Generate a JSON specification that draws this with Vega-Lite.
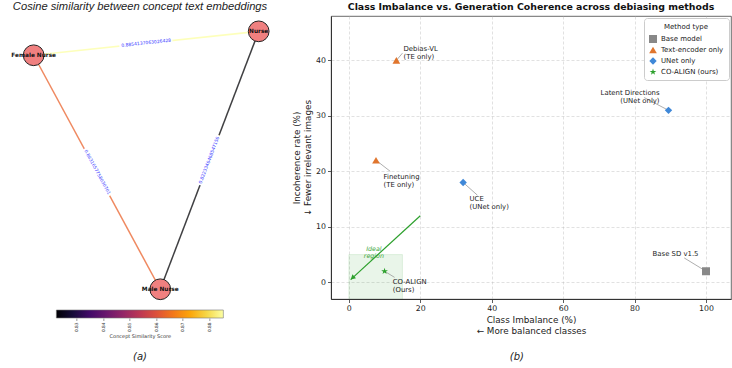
{
  "$schema": "https://vega.github.io/schema/vega-lite/v6.json",
  "padding": 0,
  "background": "white",
  "spacing": 12,
  "config": {
    "font": "DejaVu Sans",
    "view": {"stroke": "#444", "strokeWidth": 0.8}
  },
  "datasets": {
    "nodes": [
      {"concept": "Female Nurse", "x": -0.818, "y": 0.798},
      {"concept": "Nurse", "x": 0.913, "y": 0.982},
      {"concept": "Male Nurse", "x": 0.156, "y": -1.002}
    ],
    "edges": [
      {"edge": "Female Nurse – Nurse", "concept": "Female Nurse", "x": -0.818, "y": 0.798, "similarity": 0.8854137063026428},
      {"edge": "Female Nurse – Nurse", "concept": "Nurse", "x": 0.913, "y": 0.982, "similarity": 0.8854137063026428},
      {"edge": "Female Nurse – Male Nurse", "concept": "Female Nurse", "x": -0.818, "y": 0.798, "similarity": 0.8631657758030701},
      {"edge": "Female Nurse – Male Nurse", "concept": "Male Nurse", "x": 0.156, "y": -1.002, "similarity": 0.8631657758030701},
      {"edge": "Nurse – Male Nurse", "concept": "Nurse", "x": 0.913, "y": 0.982, "similarity": 0.8223346468547156},
      {"edge": "Nurse – Male Nurse", "concept": "Male Nurse", "x": 0.156, "y": -1.002, "similarity": 0.8223346468547156}
    ],
    "methods": [
      {"method": "Base SD v1.5", "type": "Base model", "imbalance": 100, "incoherence": 2, "label": "Base SD v1.5", "tx": 97.9, "ty": 4.65, "cx": 93.9, "cy": 4.4},
      {"method": "Debias-VL", "type": "Text-encoder only", "imbalance": 13.3, "incoherence": 40, "label": "Debias-VL\n(TE only)", "tx": 15.3, "ty": 41.6, "cx": 15.0, "cy": 41.3},
      {"method": "Finetuning", "type": "Text-encoder only", "imbalance": 7.6, "incoherence": 22, "label": "Finetuning\n(TE only)", "tx": 9.7, "ty": 19.6, "cx": 11.6, "cy": 20.0},
      {"method": "UCE", "type": "UNet only", "imbalance": 32, "incoherence": 18, "label": "UCE\n(UNet only)", "tx": 33.8, "ty": 15.55, "cx": 36.0, "cy": 15.7},
      {"method": "Latent Directions", "type": "UNet only", "imbalance": 89.5, "incoherence": 31, "label": "Latent Directions\n(UNet only)", "tx": 87.0, "ty": 33.5, "cx": 82.7, "cy": 33.3},
      {"method": "CO-ALIGN", "type": "CO-ALIGN (ours)", "imbalance": 10, "incoherence": 2, "label": "CO-ALIGN\n(Ours)", "tx": 12.3, "ty": 0.58, "cx": 12.8, "cy": 0.9}
    ],
    "region": [{"x0": 0, "x1": 15, "y0": -5, "y1": 5, "note": "Ideal\nregion", "nx": 7, "ny": 6.1}],
    "arrow": [{"x0": 20, "y0": 12, "x1": 0.5, "y1": 0.5, "hx": 1.02, "hy": 0.81}]
  },
  "resolve": {
    "scale": {"color": "independent", "shape": "independent", "size": "independent"},
    "legend": {"color": "independent", "shape": "independent", "size": "independent"}
  },
  "hconcat": [
    {
      "title": {"text": "(a)", "orient": "bottom", "anchor": "middle", "font": "DejaVu Sans", "fontStyle": "italic", "fontWeight": "normal", "fontSize": 10, "offset": 13, "color": "#222"},
      "center": true,
      "spacing": 7,
      "resolve": {
        "scale": {"color": "independent", "x": "independent", "y": "independent"},
        "legend": {"color": "independent"}
      },
      "vconcat": [
        {
          "width": 280,
          "height": 286,
          "view": {"stroke": null},
          "title": {"text": "Cosine similarity between concept text embeddings", "font": "Liberation Sans", "fontStyle": "italic", "fontWeight": "normal", "fontSize": 11.2, "offset": 4, "color": "#222"},
          "layer": [
            {
              "data": {"name": "edges"},
              "mark": {"type": "line", "strokeWidth": 1.5, "strokeOpacity": 0.75},
              "encoding": {
                "x": {"field": "x", "type": "quantitative", "scale": {"domain": [-1.0769, 1.0769], "nice": false, "zero": false}, "axis": null},
                "y": {"field": "y", "type": "quantitative", "scale": {"domain": [-1.1, 1.1], "nice": false, "zero": false}, "axis": null},
                "detail": {"field": "edge", "type": "nominal"},
                "color": {
                  "field": "similarity", "type": "quantitative",
                  "scale": {"scheme": "inferno", "domain": [0.8223346468547156, 0.8854137063026428], "nice": false, "zero": false},
                  "legend": null
                }
              }
            },
            {
              "data": {"name": "edges"},
              "transform": [{"aggregate": [{"op": "mean", "field": "x", "as": "mx"}, {"op": "mean", "field": "y", "as": "my"}], "groupby": ["edge", "similarity"]}],
              "mark": {"type": "text", "font": "DejaVu Sans", "fontSize": 4.5, "stroke": "white", "strokeWidth": 4, "fill": "white"},
              "encoding": {
                "x": {"field": "mx", "type": "quantitative"},
                "y": {"field": "my", "type": "quantitative"},
                "text": {"field": "similarity", "type": "nominal"},
                "angle": {"condition": [{"test": "datum.edge === 'Female Nurse – Nurse'", "value": -6.1}, {"test": "datum.edge === 'Female Nurse – Male Nurse'", "value": 61.6}], "value": -69.1}
              }
            },
            {
              "data": {"name": "edges"},
              "transform": [{"aggregate": [{"op": "mean", "field": "x", "as": "mx"}, {"op": "mean", "field": "y", "as": "my"}], "groupby": ["edge", "similarity"]}],
              "mark": {"type": "text", "font": "DejaVu Sans", "fontSize": 4.5, "color": "#3b3bff"},
              "encoding": {
                "x": {"field": "mx", "type": "quantitative"},
                "y": {"field": "my", "type": "quantitative"},
                "text": {"field": "similarity", "type": "nominal"},
                "angle": {"condition": [{"test": "datum.edge === 'Female Nurse – Nurse'", "value": -6.1}, {"test": "datum.edge === 'Female Nurse – Male Nurse'", "value": 61.6}], "value": -69.1}
              }
            },
            {
              "data": {"name": "nodes"},
              "mark": {"type": "point", "shape": "circle", "filled": true, "size": 430, "fill": "#f08080", "stroke": "#222", "strokeWidth": 1, "opacity": 1},
              "encoding": {
                "x": {"field": "x", "type": "quantitative"},
                "y": {"field": "y", "type": "quantitative"}
              }
            },
            {
              "data": {"name": "nodes"},
              "mark": {"type": "text", "font": "DejaVu Sans", "fontWeight": "bold", "fontSize": 5.8, "color": "#111"},
              "encoding": {
                "x": {"field": "x", "type": "quantitative"},
                "y": {"field": "y", "type": "quantitative"},
                "text": {"field": "concept", "type": "nominal"}
              }
            }
          ]
        },
        {
          "width": 167,
          "height": 8,
          "view": {"stroke": null},
          "data": {"name": "edges"},
          "transform": [{"aggregate": [{"op": "min", "field": "similarity", "as": "lo"}, {"op": "max", "field": "similarity", "as": "hi"}]}],
          "mark": {
            "type": "rect",
            "stroke": "#777",
            "strokeWidth": 0.6,
            "fill": {
              "gradient": "linear", "x1": 0, "y1": 0, "x2": 1, "y2": 0,
              "stops": [
                {"offset": 0.0, "color": "#000004"},
                {"offset": 0.1, "color": "#160b39"},
                {"offset": 0.2, "color": "#420a68"},
                {"offset": 0.3, "color": "#6a176e"},
                {"offset": 0.4, "color": "#932667"},
                {"offset": 0.5, "color": "#bc3754"},
                {"offset": 0.6, "color": "#dd513a"},
                {"offset": 0.7, "color": "#f37819"},
                {"offset": 0.8, "color": "#fca50a"},
                {"offset": 0.9, "color": "#f6d746"},
                {"offset": 1.0, "color": "#fcffa4"}
              ]
            }
          },
          "encoding": {
            "x": {
              "field": "lo", "type": "quantitative",
              "scale": {"domain": [0.8223346468547156, 0.8854137063026428], "nice": false, "zero": false},
              "axis": {
                "values": [0.83, 0.84, 0.85, 0.86, 0.87, 0.88], "format": ".2f",
                "labelAngle": -90, "labelFontSize": 4.3, "labelColor": "#333", "labelPadding": 1.5,
                "tickSize": 2.5, "tickColor": "#555", "tickWidth": 0.6, "domain": false, "grid": false,
                "title": "Concept Similarity Score", "titleFontSize": 5, "titleFontWeight": "normal", "titleColor": "#333", "titlePadding": 2
              }
            },
            "x2": {"field": "hi"}
          }
        }
      ]
    },
    {
      "title": {"text": "(b)", "orient": "bottom", "anchor": "middle", "font": "DejaVu Sans", "fontStyle": "italic", "fontWeight": "normal", "fontSize": 10, "offset": 17, "dx": 5, "color": "#222"},
      "resolve": {
        "scale": {"color": "independent", "shape": "independent", "size": "independent"},
        "legend": {"color": "independent", "shape": "independent", "size": "independent"}
      },
      "vconcat": [
        {
          "width": 400,
          "height": 283,
          "title": {"text": "Class Imbalance vs. Generation Coherence across debiasing methods", "font": "DejaVu Sans", "fontWeight": "bold", "fontSize": 9.4, "offset": 4, "color": "#111"},
          "layer": [
            {
              "data": {"name": "region"},
              "mark": {"type": "rect", "clip": true, "fill": "#2ca02c", "fillOpacity": 0.1, "stroke": "#2ca02c", "strokeOpacity": 0.15, "strokeWidth": 0.8},
              "encoding": {
                "x": {
                  "field": "x0", "type": "quantitative",
                  "scale": {"domain": [-5, 107], "nice": false, "zero": false},
                  "axis": {
                    "title": ["Class Imbalance (%)", "← More balanced classes"],
                    "values": [0, 5, 10, 15, 20, 25, 30, 35, 40, 45, 50, 55, 60, 65, 70, 75, 80, 85, 90, 95, 100, 105],
                    "labelExpr": "datum.value % 20 === 0 ? datum.label : ''",
                    "labelOverlap": false, "labelFlush": false,
                    "grid": true, "gridDash": [3, 2], "gridColor": "#bbbbbb", "gridOpacity": 0.75, "gridWidth": 0.6,
                    "tickSize": {"condition": {"test": "datum.value % 20 === 0", "value": 3.5}, "value": 2},
                    "tickColor": "#333", "tickWidth": 0.8, "domainColor": "#333", "domainWidth": 1,
                    "labelFontSize": 7.8, "labelColor": "#222", "labelPadding": 2,
                    "titleFontSize": 8.8, "titleFontWeight": "normal", "titleColor": "#222", "titlePadding": 3
                  }
                },
                "x2": {"field": "x1"},
                "y": {
                  "field": "y0", "type": "quantitative",
                  "scale": {"domain": [-3, 48], "nice": false, "zero": false},
                  "axis": {
                    "title": ["Incoherence rate (%)", "↓ Fewer irrelevant images"],
                    "values": [0, 5, 10, 15, 20, 25, 30, 35, 40, 45],
                    "labelExpr": "datum.value % 10 === 0 ? datum.label : ''",
                    "labelOverlap": false, "labelFlush": false,
                    "grid": true, "gridDash": [3, 2], "gridColor": "#bbbbbb", "gridOpacity": 0.75, "gridWidth": 0.6,
                    "tickSize": {"condition": {"test": "datum.value % 10 === 0", "value": 3.5}, "value": 2},
                    "tickColor": "#333", "tickWidth": 0.8, "domainColor": "#333", "domainWidth": 1,
                    "labelFontSize": 7.8, "labelColor": "#222", "labelPadding": 2,
                    "titleFontSize": 8.8, "titleFontWeight": "normal", "titleColor": "#222", "titlePadding": 3
                  }
                },
                "y2": {"field": "y1"}
              }
            },
            {
              "data": {"name": "arrow"},
              "mark": {"type": "rule", "color": "#2ca02c", "strokeWidth": 1.2},
              "encoding": {
                "x": {"field": "x0", "type": "quantitative"},
                "y": {"field": "y0", "type": "quantitative"},
                "x2": {"field": "x1"},
                "y2": {"field": "y1"}
              }
            },
            {
              "data": {"name": "arrow"},
              "mark": {"type": "point", "shape": "triangle-up", "filled": true, "size": 28, "angle": 227.5, "color": "#2ca02c", "opacity": 1},
              "encoding": {
                "x": {"field": "hx", "type": "quantitative"},
                "y": {"field": "hy", "type": "quantitative"}
              }
            },
            {
              "data": {"name": "region"},
              "mark": {"type": "text", "font": "DejaVu Sans", "fontStyle": "italic", "fontSize": 6.3, "color": "#2ca02c", "opacity": 0.9, "lineBreak": "\n", "lineHeight": 7.5},
              "encoding": {
                "x": {"field": "nx", "type": "quantitative"},
                "y": {"field": "ny", "type": "quantitative"},
                "text": {"field": "note", "type": "nominal"}
              }
            },
            {
              "data": {"name": "methods"},
              "mark": {"type": "rule", "color": "#999999", "strokeWidth": 0.8},
              "encoding": {
                "x": {"field": "imbalance", "type": "quantitative"},
                "y": {"field": "incoherence", "type": "quantitative"},
                "x2": {"field": "cx"},
                "y2": {"field": "cy"}
              }
            },
            {
              "data": {"name": "methods"},
              "mark": {"type": "point", "filled": true, "opacity": 1},
              "encoding": {
                "x": {"field": "imbalance", "type": "quantitative"},
                "y": {"field": "incoherence", "type": "quantitative"},
                "color": {
                  "field": "type", "type": "nominal",
                  "scale": {"domain": ["Base model", "Text-encoder only", "UNet only", "CO-ALIGN (ours)"], "range": ["#888888", "#e0752d", "#3f88d8", "#2ca02c"]},
                  "legend": {
                    "title": "Method type", "orient": "top-right", "offset": 2,
                    "fillColor": "white", "strokeColor": "#cccccc", "cornerRadius": 3, "padding": 5,
                    "labelFontSize": 7, "titleFontSize": 7, "titleFontWeight": "normal", "titleAnchor": "middle",
                    "labelColor": "#222", "titleColor": "#222", "symbolSize": 100, "rowPadding": 3, "symbolStrokeWidth": 0
                  }
                },
                "shape": {
                  "field": "type", "type": "nominal",
                  "scale": {"domain": ["Base model", "Text-encoder only", "UNet only", "CO-ALIGN (ours)"], "range": ["square", "triangle-up", "diamond", "M0,-1L0.225,-0.309L0.951,-0.309L0.363,0.118L0.588,0.809L0,0.382L-0.588,0.809L-0.363,0.118L-0.951,-0.309L-0.225,-0.309Z"]},
                  "legend": {"title": "Method type"}
                },
                "size": {
                  "field": "type", "type": "nominal",
                  "scale": {"domain": ["Base model", "Text-encoder only", "UNet only", "CO-ALIGN (ours)"], "range": [64, 50, 100, 90]},
                  "legend": null
                }
              }
            },
            {
              "data": {"name": "methods"},
              "transform": [{"filter": {"field": "method", "oneOf": ["Finetuning", "UCE", "CO-ALIGN"]}}],
              "mark": {"type": "text", "font": "DejaVu Sans", "fontSize": 6.9, "color": "#222", "align": "left", "baseline": "top", "lineBreak": "\n", "lineHeight": 8},
              "encoding": {
                "x": {"field": "tx", "type": "quantitative"},
                "y": {"field": "ty", "type": "quantitative"},
                "text": {"field": "label", "type": "nominal"}
              }
            },
            {
              "data": {"name": "methods"},
              "transform": [{"filter": {"field": "method", "oneOf": ["Debias-VL"]}}],
              "mark": {"type": "text", "font": "DejaVu Sans", "fontSize": 6.9, "color": "#222", "align": "left", "baseline": "bottom", "lineBreak": "\n", "lineHeight": 8},
              "encoding": {
                "x": {"field": "tx", "type": "quantitative"},
                "y": {"field": "ty", "type": "quantitative"},
                "text": {"field": "label", "type": "nominal"}
              }
            },
            {
              "data": {"name": "methods"},
              "transform": [{"filter": {"field": "method", "oneOf": ["Latent Directions", "Base SD v1.5"]}}],
              "mark": {"type": "text", "font": "DejaVu Sans", "fontSize": 6.9, "color": "#222", "align": "right", "baseline": "bottom", "lineBreak": "\n", "lineHeight": 8},
              "encoding": {
                "x": {"field": "tx", "type": "quantitative"},
                "y": {"field": "ty", "type": "quantitative"},
                "text": {"field": "label", "type": "nominal"}
              }
            }
          ]
        }
      ]
    }
  ]
}
